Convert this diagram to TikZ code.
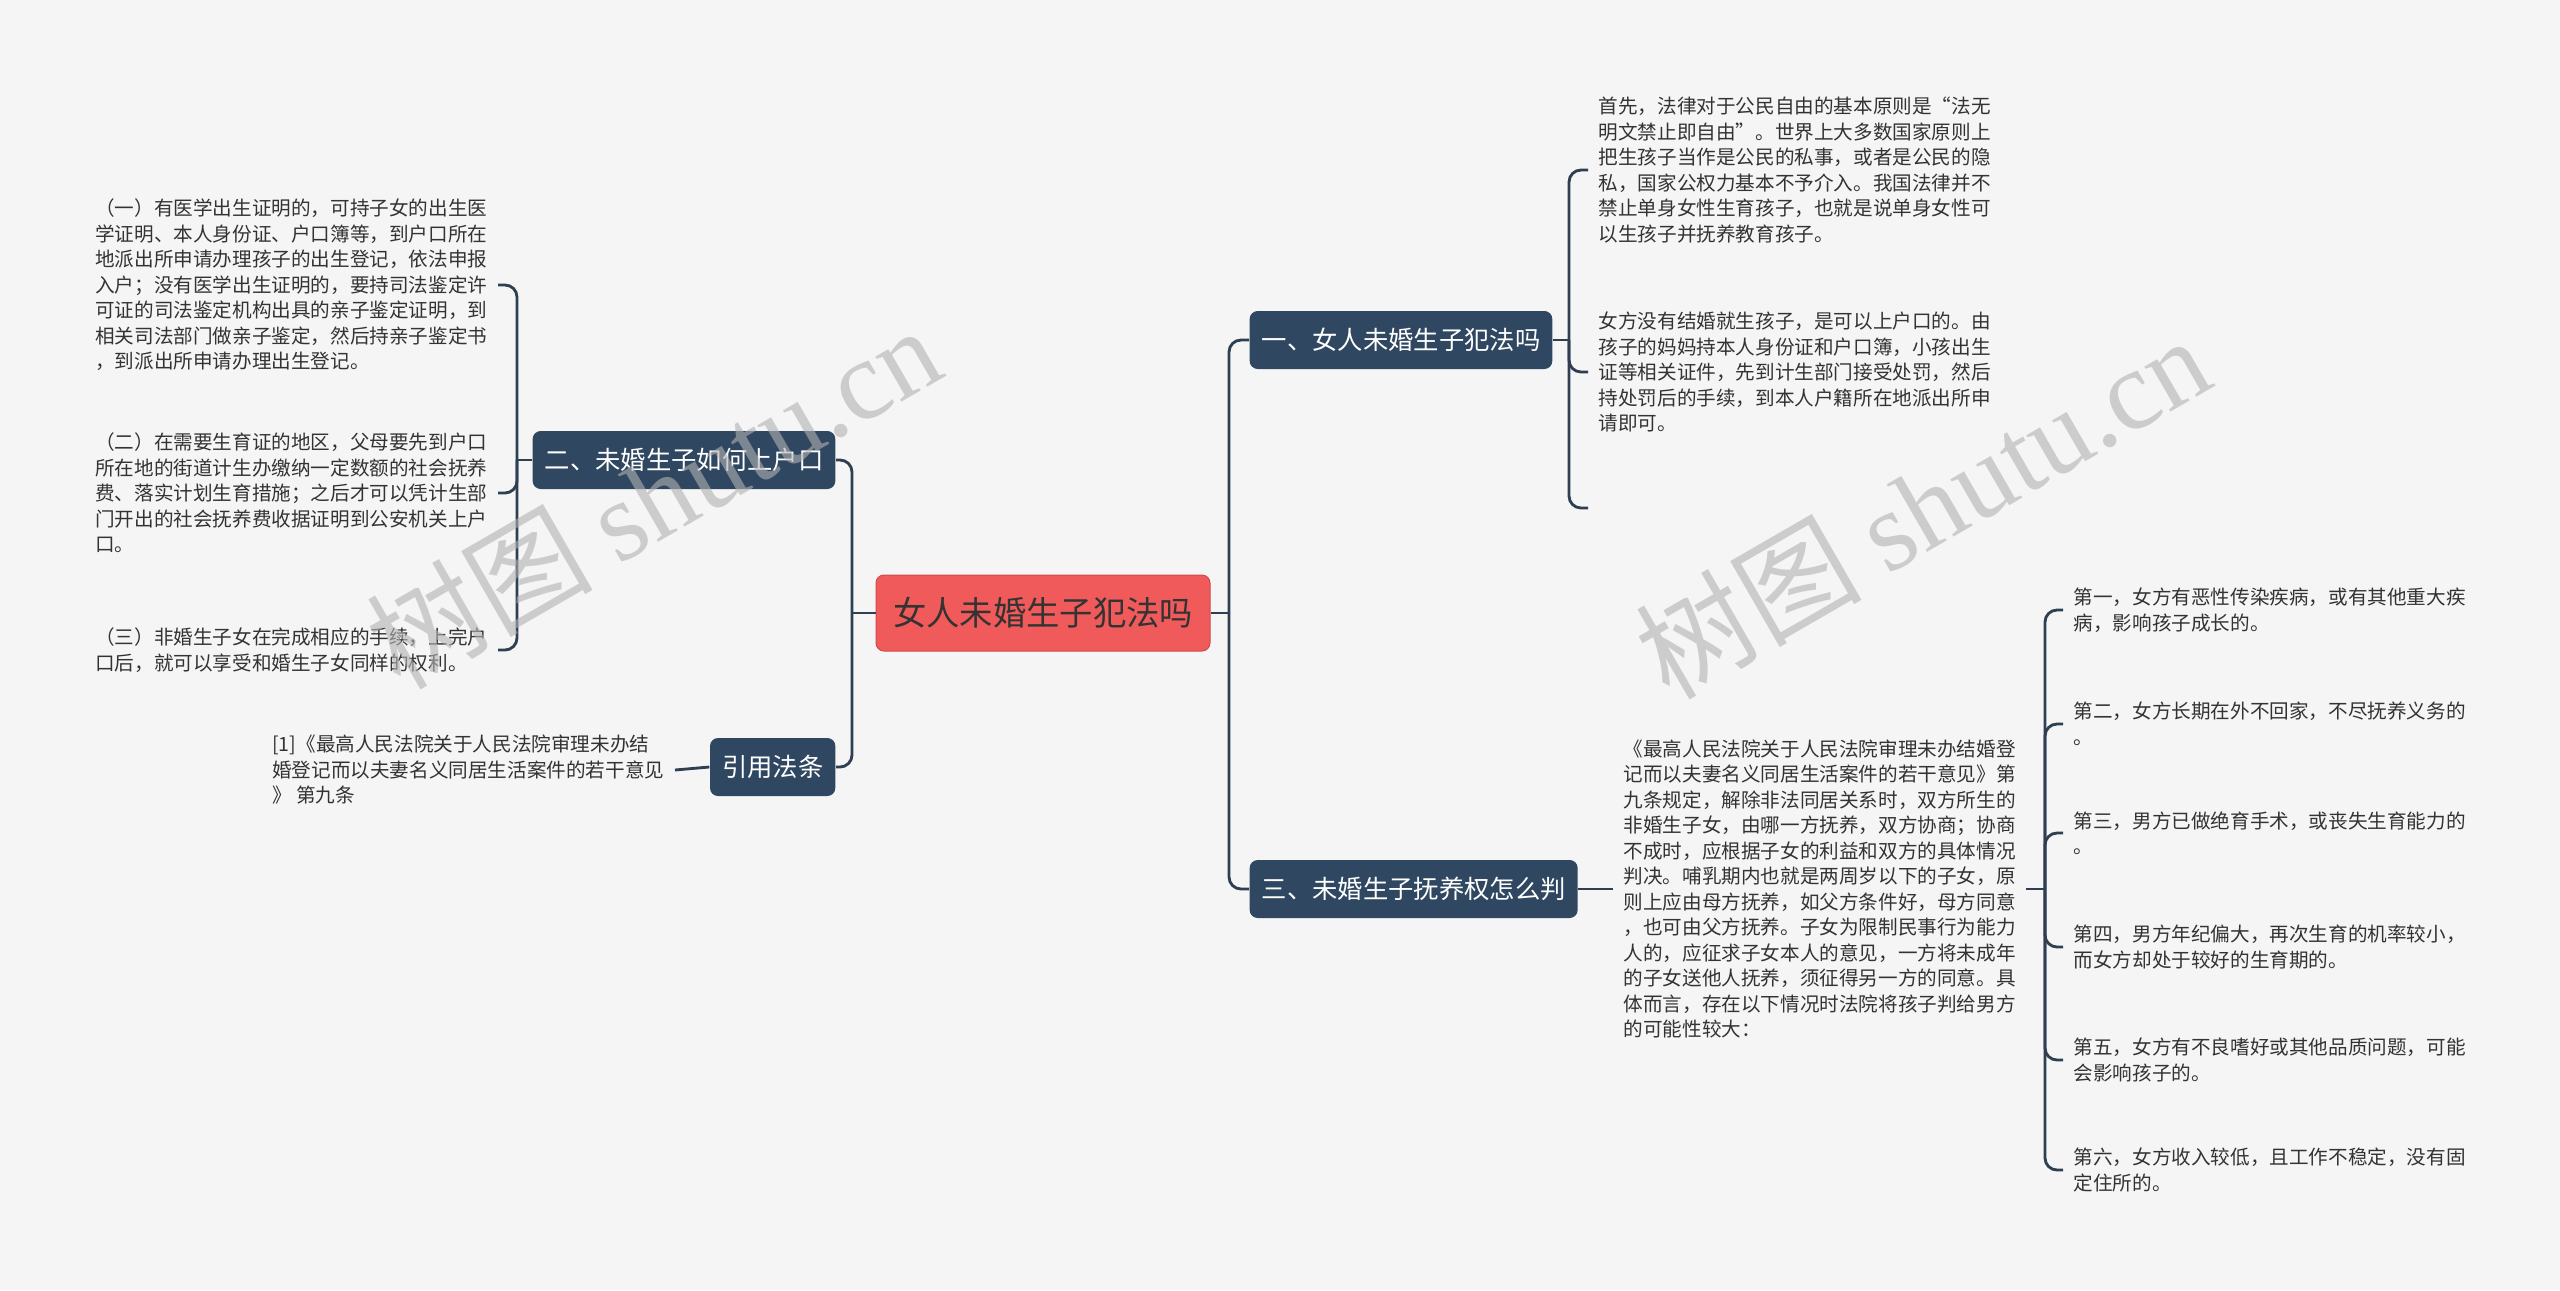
\documentclass[tikz,border=0pt]{standalone}
\usepackage{fontspec}
\setmainfont{Noto Sans CJK SC}
\newfontfamily\wmserif{Liberation Serif}
\usetikzlibrary{calc}
\definecolor{bgc}{HTML}{F5F5F5}
\definecolor{rootred}{HTML}{F05A5A}
\definecolor{branchblue}{HTML}{2F4760}
\definecolor{linec}{HTML}{2E3F52}
\definecolor{txt}{HTML}{333333}

\begin{document}
\begin{tikzpicture}[x=0.3pt,y=-0.3pt,
  conn/.style={draw=linec,line width=0.85pt,rounded corners=3.6pt},
  rootbox/.style={fill=rootred,draw=rootred!85!black,line width=0.3pt,rounded corners=2.4pt,
    text=txt,font=\fontsize{10pt}{12pt}\selectfont,inner xsep=5.1pt,minimum height=22.8pt},
  branchbox/.style={fill=branchblue,rounded corners=2.4pt,text=white,
    font=\fontsize{7.6pt}{9pt}\selectfont,inner xsep=3.6pt,minimum height=17.4pt},
  leaftext/.style={align=left,text=txt,font=\fontsize{5.88pt}{7.65pt}\selectfont,
    inner xsep=3pt,inner ysep=0pt},
  wmark/.style={text=black!30,opacity=0.6,font=\fontsize{34pt}{38pt}\selectfont,rotate=30}]
  \useasboundingbox (0,0) rectangle (2560,1290);
  \fill[bgc] (0,0) rectangle (2560,1290);

  % centre and main branches
  \node[rootbox] (root) at (1043,613) {女人未婚生子犯法吗};
  \node[branchbox,anchor=west] (b1) at (1249,340) {一、女人未婚生子犯法吗};
  \node[branchbox,anchor=west] (b3) at (1249,889) {三、未婚生子抚养权怎么判};
  \node[branchbox,anchor=east] (b2) at (836,460) {二、未婚生子如何上户口};
  \node[branchbox,anchor=east] (b4) at (836,767) {引用法条};

  % leaves, left side
  \node[leaftext,anchor=east] (l21) at (498,285) {（一）有医学出生证明的，可持子女的出生医\\学证明、本人身份证、户口簿等，到户口所在\\地派出所申请办理孩子的出生登记，依法申报\\入户；没有医学出生证明的，要持司法鉴定许\\可证的司法鉴定机构出具的亲子鉴定证明，到\\相关司法部门做亲子鉴定，然后持亲子鉴定书\\，到派出所申请办理出生登记。};
  \node[leaftext,anchor=east] (l22) at (498,493) {（二）在需要生育证的地区，父母要先到户口\\所在地的街道计生办缴纳一定数额的社会抚养\\费、落实计划生育措施；之后才可以凭计生部\\门开出的社会抚养费收据证明到公安机关上户\\口。};
  \node[leaftext,anchor=east] (l23) at (498,650) {（三）非婚生子女在完成相应的手续，上完户\\口后，就可以享受和婚生子女同样的权利。};
  \node[leaftext,anchor=east] (l41) at (675,770) {[1]《最高人民法院关于人民法院审理未办结\\婚登记而以夫妻名义同居生活案件的若干意见\\》 第九条};

  % leaves, right side
  \node[leaftext,anchor=west] (l11) at (1588,170) {首先，法律对于公民自由的基本原则是“法无\\明文禁止即自由”。世界上大多数国家原则上\\把生孩子当作是公民的私事，或者是公民的隐\\私，国家公权力基本不予介入。我国法律并不\\禁止单身女性生育孩子，也就是说单身女性可\\以生孩子并抚养教育孩子。};
  \node[leaftext,anchor=west] (l12) at (1588,372) {女方没有结婚就生孩子，是可以上户口的。由\\孩子的妈妈持本人身份证和户口簿，小孩出生\\证等相关证件，先到计生部门接受处罚，然后\\持处罚后的手续，到本人户籍所在地派出所申\\请即可。};
  \coordinate (l13) at (1588,508);
  \node[leaftext,anchor=west] (l31) at (1613,889) {《最高人民法院关于人民法院审理未办结婚登\\记而以夫妻名义同居生活案件的若干意见》第\\九条规定，解除非法同居关系时，双方所生的\\非婚生子女，由哪一方抚养，双方协商；协商\\不成时，应根据子女的利益和双方的具体情况\\判决。哺乳期内也就是两周岁以下的子女，原\\则上应由母方抚养，如父方条件好，母方同意\\，也可由父方抚养。子女为限制民事行为能力\\人的，应征求子女本人的意见，一方将未成年\\的子女送他人抚养，须征得另一方的同意。具\\体而言，存在以下情况时法院将孩子判给男方\\的可能性较大：};
  \node[leaftext,anchor=west] (c1) at (2063,610) {第一，女方有恶性传染疾病，或有其他重大疾\\病，影响孩子成长的。};
  \node[leaftext,anchor=west] (c2) at (2063,724) {第二，女方长期在外不回家，不尽抚养义务的\\。};
  \node[leaftext,anchor=west] (c3) at (2063,833) {第三，男方已做绝育手术，或丧失生育能力的\\。};
  \node[leaftext,anchor=west] (c4) at (2063,947) {第四，男方年纪偏大，再次生育的机率较小，\\而女方却处于较好的生育期的。};
  \node[leaftext,anchor=west] (c5) at (2063,1060) {第五，女方有不良嗜好或其他品质问题，可能\\会影响孩子的。};
  \node[leaftext,anchor=west] (c6) at (2063,1170) {第六，女方收入较低，且工作不稳定，没有固\\定住所的。};

  % connectors
  \coordinate (lj) at (852,613);
  \coordinate (rj) at (1229,613);
  \draw[conn] (root.west) -- (lj);
  \draw[conn] (lj) |- (b2.east);
  \draw[conn] (lj) |- (b4.east);
  \draw[conn] (root.east) -- (rj);
  \draw[conn] (rj) |- (b1.west);
  \draw[conn] (rj) |- (b3.west);

  \coordinate (j1) at (1569,340);
  \draw[conn] (b1.east) -- (j1);
  \draw[conn] (j1) |- (l11.west);
  \draw[conn] (j1) |- (l12.west);
  \draw[conn] (j1) |- (l13);

  \coordinate (j2) at (517,460);
  \draw[conn] (b2.west) -- (j2);
  \draw[conn] (j2) |- (l21.east);
  \draw[conn] (j2) |- (l22.east);
  \draw[conn] (j2) |- (l23.east);

  \draw[conn] (b4.west) -- (l41.east);

  \draw[conn] (b3.east) -- (l31.west);
  \coordinate (j3) at (2045,889);
  \draw[conn] (l31.east) -- (j3);
  \draw[conn] (j3) |- (c1.west);
  \draw[conn] (j3) |- (c2.west);
  \draw[conn] (j3) |- (c3.west);
  \draw[conn] (j3) |- (c4.west);
  \draw[conn] (j3) |- (c5.west);
  \draw[conn] (j3) |- (c6.west);

  % watermark
  \node[wmark] (wm1) at (653,496) {树图 {\wmserif shutu.cn}};
  \node[wmark] (wm2) at (1922,506) {树图 {\wmserif shutu.cn}};
\end{tikzpicture}
\end{document}
